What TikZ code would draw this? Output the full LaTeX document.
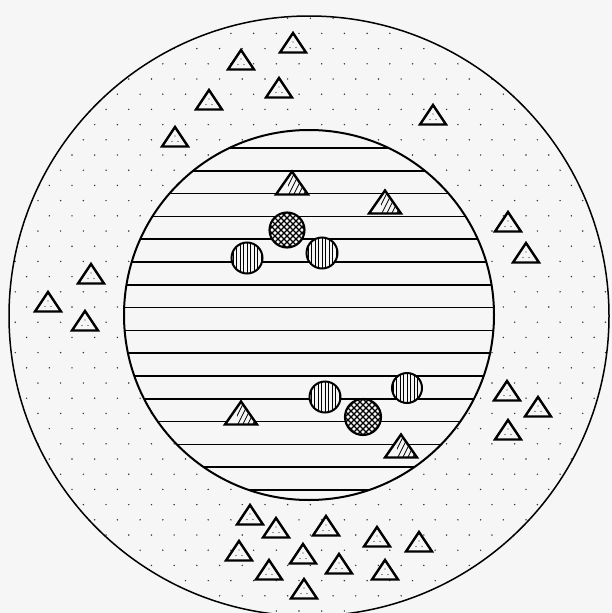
\documentclass[tikz,border=0pt]{standalone}
\definecolor{paper}{RGB}{246,246,246}
\tikzset{
  tri/.style={draw=black,line width=2.4pt,fill=paper,line join=miter},
  hatchline/.style={line width=0.7pt},
  dotc/.style={fill=black!80}
}
\newcommand\otri[2]{%
  \draw[tri] (#1-13,#2+9.5) -- (#1,#2-10) -- (#1+13,#2+9.5) -- cycle;
  \fill[dotc] (#1,#2-1) circle[radius=0.7pt];
  \fill[dotc] (#1-3,#2+4.5) circle[radius=0.7pt];
  \fill[dotc] (#1+3,#2+4.5) circle[radius=0.7pt];
}
\newcommand\htri[2]{%
  \fill[paper] (#1-16,#2+11.5) -- (#1,#2-11.5) -- (#1+16,#2+11.5) -- cycle;
  \begin{scope}
    \clip (#1-16,#2+11.5) -- (#1,#2-11.5) -- (#1+16,#2+11.5) -- cycle;
    \clip (#1-4,#2-20) rectangle (#1+20,#2+20);
    \foreach \i in {-30,-25,...,30} \draw[hatchline] (#1+\i,#2+15) -- (#1+\i+15,#2-15);
  \end{scope}
  \draw[tri,fill=none] (#1-16,#2+11.5) -- (#1,#2-11.5) -- (#1+16,#2+11.5) -- cycle;
}
\newcommand\vcirc[3]{%
  \fill[paper] (#1,#2) circle[radius=#3 pt];
  \begin{scope}
    \clip (#1,#2) circle[radius=#3 pt];
    \foreach \i in {-17.5,-14,...,18} \draw[line width=0.8pt] (#1+\i,#2-20) -- (#1+\i,#2+20);
  \end{scope}
  \draw[line width=2pt] (#1,#2) circle[radius=#3 pt];
}
\newcommand\ccirc[3]{%
  \fill[paper] (#1,#2) circle[radius=#3 pt];
  \begin{scope}
    \clip (#1,#2) circle[radius=#3 pt];
    \foreach \i in {-42,-36,...,42} {
      \draw[line width=1.1pt] (#1+\i-20,#2+20) -- (#1+\i+20,#2-20);
      \draw[line width=1.1pt] (#1+\i-20,#2-20) -- (#1+\i+20,#2+20);
    }
  \end{scope}
  \draw[line width=2.1pt] (#1,#2) circle[radius=#3 pt];
}
\begin{document}
\begin{tikzpicture}[x=1pt,y=-1pt]
\useasboundingbox (0,0) rectangle (612,613);
\fill[paper] (0,0) rectangle (612,613);
% dotted annulus
\begin{scope}
  \clip (309,316) circle[radius=300pt];
  \foreach \j in {0,...,39} {
    \pgfmathsetmacro\yy{18.2+15.2*\j}
    \pgfmathsetmacro\xo{mod(\j,2)==1 ? 72 : 60.65}
    \foreach \n in {-3,...,25} {
      \fill[dotc] (\xo+22.7*\n,\yy) circle[radius=0.8pt];
    }
  }
\end{scope}
\draw[line width=1.5pt] (309,316) circle[radius=300pt];
% inner striped disc
\fill[paper] (309,315) circle[radius=185pt];
\begin{scope}
  \clip (309,315) circle[radius=185pt];
  \foreach \k in {0,...,15} \draw[line width=1.7pt] (100,148+22.8*\k) -- (520,148+22.8*\k);
\end{scope}
\draw[line width=2pt] (309,315) circle[radius=185pt];
% outer triangles
\otri{293}{43}
\otri{241}{60}
\otri{279}{88}
\otri{209}{100}
\otri{433}{115}
\otri{175}{137}
\otri{508}{222}
\otri{526}{253}
\otri{91}{274}
\otri{48}{302}
\otri{85}{321}
\otri{507}{391}
\otri{538}{407}
\otri{508}{430}
\otri{250}{515}
\otri{276}{528}
\otri{326}{526}
\otri{377}{537}
\otri{419}{542}
\otri{239}{551}
\otri{303}{554}
\otri{339}{564}
\otri{269}{570}
\otri{385}{570}
\otri{304}{589}
% inner hatched triangles
\htri{292}{183}
\htri{385}{202}
\htri{241}{413}
\htri{401}{446}
% circles
\ccirc{287}{230}{17.5}
\vcirc{247}{258}{15.5}
\vcirc{322}{253}{15.5}
\vcirc{325}{397}{15.5}
\vcirc{407}{388}{15}
\ccirc{363}{417}{18}
\end{tikzpicture}
\end{document}
